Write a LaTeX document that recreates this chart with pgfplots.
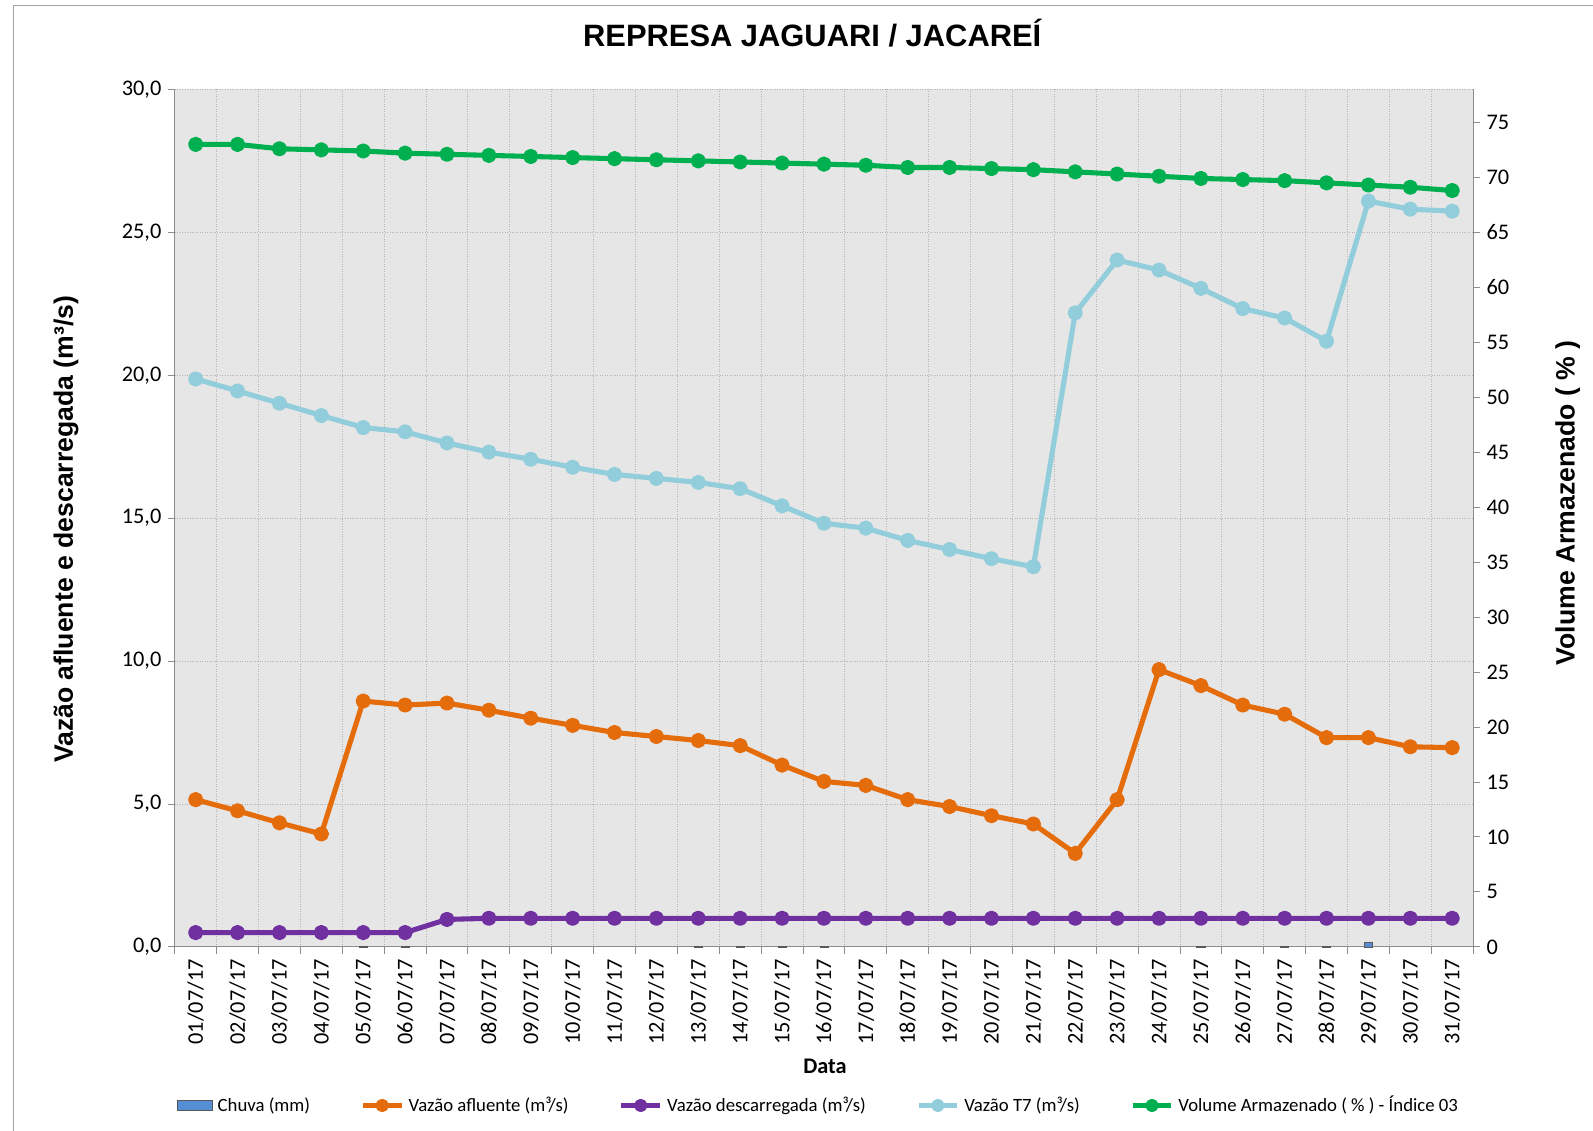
\documentclass[border=0pt]{standalone}
\usepackage{fontspec}
\setmainfont{Carlito}
\newfontfamily\arialf{Liberation Sans}
\usepackage{pgfplots}
\pgfplotsset{compat=1.18}

\definecolor{cOrange}{HTML}{E46C0A}
\definecolor{cPurple}{HTML}{7030A0}
\definecolor{cLBlue}{HTML}{92CDDC}
\definecolor{cGreen}{HTML}{00B050}
\definecolor{cChuva}{HTML}{558ED5}
\definecolor{cBack}{HTML}{E6E6E6}
\definecolor{cGrid}{HTML}{B4B4B4}
\definecolor{cAxis}{HTML}{8C8C8C}

\newcommand{\tickfont}{\fontsize{12.5}{15}\selectfont}

\pgfplotsset{
  common/.style={
    width=255.6mm, height=168.8mm, scale only axis,
    at={(34.4mm,-186.4mm)}, anchor=south west,
    xmin=0.5, xmax=31.5,
    tick align=outside,
    major tick length=1.4mm,
    axis line style={cAxis, line width=0.5pt},
    every tick/.style={cAxis, line width=0.5pt},
    tick label style={font=\tickfont},
    /pgf/number format/assume math mode=true,
  },
  serie/.style={line width=1mm, mark=*, mark size=1mm, line join=round},
}

\begin{document}
\begin{tikzpicture}
\path[use as bounding box] (0,0) rectangle (313.6mm,-222.6mm);
\draw[cAxis!80, line width=0.6pt] (2.6mm,-222.6mm) -- (2.6mm,-1mm) -- (313.6mm,-1mm);

% eixo da esquerda: vazoes
\begin{axis}[common,
    axis background/.style={fill=cBack},
    axis x line*=bottom, axis y line*=left,
    ymin=0, ymax=30, ytick={0,5,...,30},
    yticklabel style={/pgf/number format/.cd, fixed, fixed zerofill, precision=1, use comma},
    xtick={0.5,1.5,...,31.5}, xticklabels={},
    xmajorgrids, ymajorgrids,
    grid style={cGrid, densely dotted, line width=0.5pt},
    extra x ticks={1,...,31},
    extra x tick labels={01/07/17,02/07/17,03/07/17,04/07/17,05/07/17,06/07/17,07/07/17,08/07/17,09/07/17,10/07/17,11/07/17,12/07/17,13/07/17,14/07/17,15/07/17,16/07/17,17/07/17,18/07/17,19/07/17,20/07/17,21/07/17,22/07/17,23/07/17,24/07/17,25/07/17,26/07/17,27/07/17,28/07/17,29/07/17,30/07/17,31/07/17},
    extra x tick style={major tick length=0pt, grid=none, tick label style={yshift=-1.2mm, rotate=90, anchor=east}},
    title={\arialf\bfseries\fontsize{17.3}{20}\selectfont REPRESA JAGUARI / JACAREÍ},
    title style={at={(axis description cs:0.491,1.0533)}, anchor=center},
    ylabel={\arialf\bfseries\fontsize{14.9}{18}\selectfont Vazão afluente e descarregada (m³/s)},
    ylabel style={at={(axis description cs:-0.0837,0.487)}, anchor=center},
    xlabel={\bfseries\fontsize{12.5}{15}\selectfont Data},
    xlabel style={at={(axis description cs:0.5008,-0.1398)}, anchor=center},
    clip=false,
]
% Chuva (mm)
\addplot[ybar, bar width=1.6mm, fill=cChuva, draw=black!65, line width=0.4pt] coordinates {
(5,0.02) (6,0.02) (13,0.02) (14,0.02) (15,0.02) (16,0.02) (25,0.02) (27,0.02) (28,0.02) (29,0.15)};
% Vazao T7
\addplot[serie, color=cLBlue] coordinates {
(1,19.87) (2,19.45) (3,19.02) (4,18.59) (5,18.17) (6,18.02) (7,17.63) (8,17.31) (9,17.06) (10,16.78)
(11,16.53) (12,16.39) (13,16.25) (14,16.03) (15,15.43) (16,14.82) (17,14.65) (18,14.22) (19,13.90) (20,13.58)
(21,13.30) (22,22.18) (23,24.03) (24,23.68) (25,23.04) (26,22.33) (27,22.00) (28,21.19) (29,26.09) (30,25.81) (31,25.74)};
% Vazao afluente
\addplot[serie, color=cOrange] coordinates {
(1,5.15) (2,4.76) (3,4.34) (4,3.95) (5,8.60) (6,8.46) (7,8.53) (8,8.28) (9,8.00) (10,7.75)
(11,7.50) (12,7.36) (13,7.22) (14,7.04) (15,6.36) (16,5.79) (17,5.65) (18,5.15) (19,4.91) (20,4.59)
(21,4.30) (22,3.27) (23,5.15) (24,9.70) (25,9.14) (26,8.46) (27,8.14) (28,7.32) (29,7.32) (30,7.00) (31,6.97)};
% Vazao descarregada
\addplot[serie, color=cPurple] coordinates {
(1,0.50) (2,0.50) (3,0.50) (4,0.50) (5,0.50) (6,0.50) (7,0.96) (8,1.00) (9,1.00) (10,1.00)
(11,1.00) (12,1.00) (13,1.00) (14,1.00) (15,1.00) (16,1.00) (17,1.00) (18,1.00) (19,1.00) (20,1.00)
(21,1.00) (22,1.00) (23,1.00) (24,1.00) (25,1.00) (26,1.00) (27,1.00) (28,1.00) (29,1.00) (30,1.00) (31,1.00)};
\end{axis}

% eixo da direita: volume armazenado
\begin{axis}[common,
    axis x line=none, axis y line*=right,
    ymin=0, ymax=78, ytick={0,5,...,75},
    ylabel={\arialf\bfseries\fontsize{14.9}{18}\selectfont Volume Armazenado ( \% )},
    ylabel style={at={(axis description cs:1.0728,0.518)}, anchor=center},
    legend columns=5,
    legend style={at={(axis description cs:0.4955,-0.185)}, anchor=center, draw=none, fill=none,
      font=\fontsize{10.5}{12}\selectfont,
      nodes={inner xsep=0.3mm},
      /tikz/every even column/.append style={column sep=9.6mm},
      /tikz/every odd column/.append style={column sep=0.6mm}},
    legend image code/.code={\draw[mark repeat=2, mark phase=2, #1] plot coordinates {(0mm,0mm) (3.8mm,0mm) (7.6mm,0mm)};},
    clip=false,
]
\addlegendimage{legend image code/.code={\draw[fill=cChuva, draw=black!65, line width=0.5pt] (0mm,-1mm) rectangle (7mm,1mm);}}
\addlegendimage{serie, color=cOrange, mark size=0.8mm}
\addlegendimage{serie, color=cPurple, mark size=0.8mm}
\addlegendimage{serie, color=cLBlue, mark size=0.8mm}
\addlegendimage{serie, color=cGreen, mark size=0.8mm}
% Volume armazenado (%)
\addplot[serie, color=cGreen, forget plot] coordinates {
(1,73.0) (2,73.0) (3,72.6) (4,72.5) (5,72.4) (6,72.2) (7,72.1) (8,72.0) (9,71.9) (10,71.8)
(11,71.7) (12,71.6) (13,71.5) (14,71.4) (15,71.3) (16,71.2) (17,71.1) (18,70.9) (19,70.9) (20,70.8)
(21,70.7) (22,70.5) (23,70.3) (24,70.1) (25,69.9) (26,69.8) (27,69.7) (28,69.5) (29,69.3) (30,69.1) (31,68.8)};
\legend{Chuva (mm), Vazão afluente (m³/s), Vazão descarregada (m³/s), Vazão T7 (m³/s), Volume Armazenado ( \% ) - Índice 03}
\end{axis}
\end{tikzpicture}
\end{document}
